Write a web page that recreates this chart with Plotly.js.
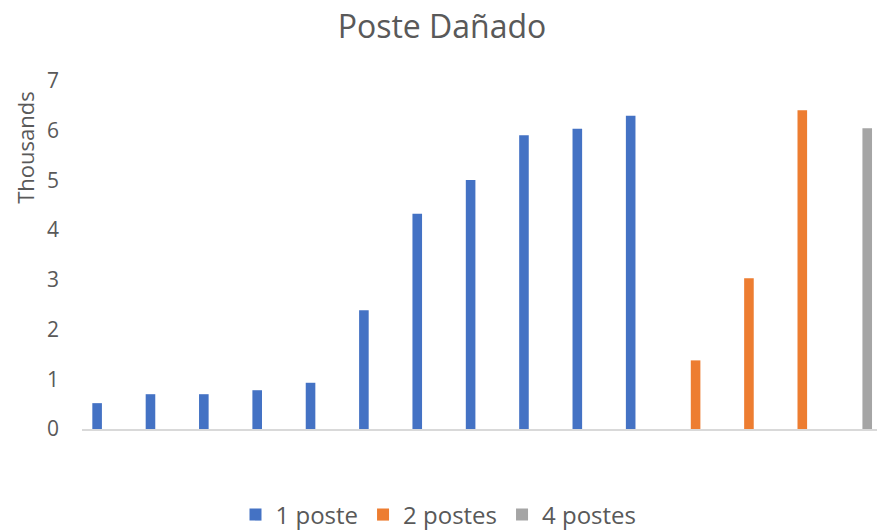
<!DOCTYPE html>
<html>
<head>
<meta charset="utf-8">
<script src="https://cdn.plot.ly/plotly-3.0.1.min.js"></script>
<style>html,body{margin:0;padding:0;background:#fff;}#chart{width:877px;height:531px;}</style>
</head>
<body>
<div id="chart"></div>
<script>
// Categories (no labels shown on the original axis)
const categories = ["c1","c2","c3","c4","c5","c6","c7","c8","c9","c10","c11","c12","c13","c14","c15"];
// Values in thousands
const onePosteCats = categories.slice(0, 11);
const onePoste = [0.52, 0.70, 0.70, 0.78, 0.93, 2.39, 4.33, 5.01, 5.91, 6.04, 6.30];
const twoPostesCats = categories.slice(11, 14);
const twoPostes = [1.38, 3.03, 6.41];
const fourPostesCats = categories.slice(14, 15);
const fourPostes = [6.05];
const seriesNames = ["1 poste", "2 postes", "4 postes"];
const yTicks = [0, 1, 2, 3, 4, 5, 6, 7];

const textColor = "#595959";
const font = "Open Sans, sans-serif";

const traces = [
  {type: "bar", name: seriesNames[0], x: onePosteCats, y: onePoste, offsetgroup: "g1", marker: {color: "#4472C4"}},
  {type: "bar", name: seriesNames[1], x: twoPostesCats, y: twoPostes, offsetgroup: "g2", marker: {color: "#ED7D31"}},
  {type: "bar", name: seriesNames[2], x: fourPostesCats, y: fourPostes, offsetgroup: "g3", marker: {color: "#A5A5A5"}}
];

const layout = {
  width: 877, height: 531,
  paper_bgcolor: "#ffffff", plot_bgcolor: "#ffffff",
  margin: {l: 82, r: 0, t: 81, b: 102},
  font: {family: font, color: textColor},
  title: {text: "Poste Dañado", font: {size: 32, color: textColor, family: font},
          x: 0.504, xanchor: "center", xref: "container", y: 1 - 27/531, yanchor: "middle", yref: "container"},
  barmode: "group", bargap: 0.35, bargroupgap: 0.17,
  showlegend: true,
  legend: {orientation: "h", x: 0.5, xanchor: "center", xref: "container",
           y: 1 - 515/531, yanchor: "middle", yref: "container",
           font: {size: 24, color: textColor, family: font}, itemwidth: 30, traceorder: "normal"},
  xaxis: {type: "category", categoryorder: "array", categoryarray: categories,
          range: [-0.5, 14.4], showticklabels: false, ticks: "", showgrid: false,
          showline: true, linecolor: "#d9d9d9", linewidth: 2, zeroline: false, fixedrange: true},
  yaxis: {range: [0, 7], tickvals: yTicks, ticktext: yTicks.map(String), showgrid: false,
          zeroline: false, showline: false, ticks: "", ticklabelstandoff: 22,
          tickfont: {size: 21, color: textColor, family: font}},
  annotations: [{text: "Thousands", textangle: -90, xref: "paper", yref: "paper",
                 x: -0.072, y: 1 - (148 - 81) / 348, xanchor: "center", yanchor: "middle",
                 showarrow: false, font: {size: 22, color: textColor, family: font}}]
};

Plotly.newPlot("chart", traces, layout, {staticPlot: true, displayModeBar: false});
</script>
</body>
</html>
